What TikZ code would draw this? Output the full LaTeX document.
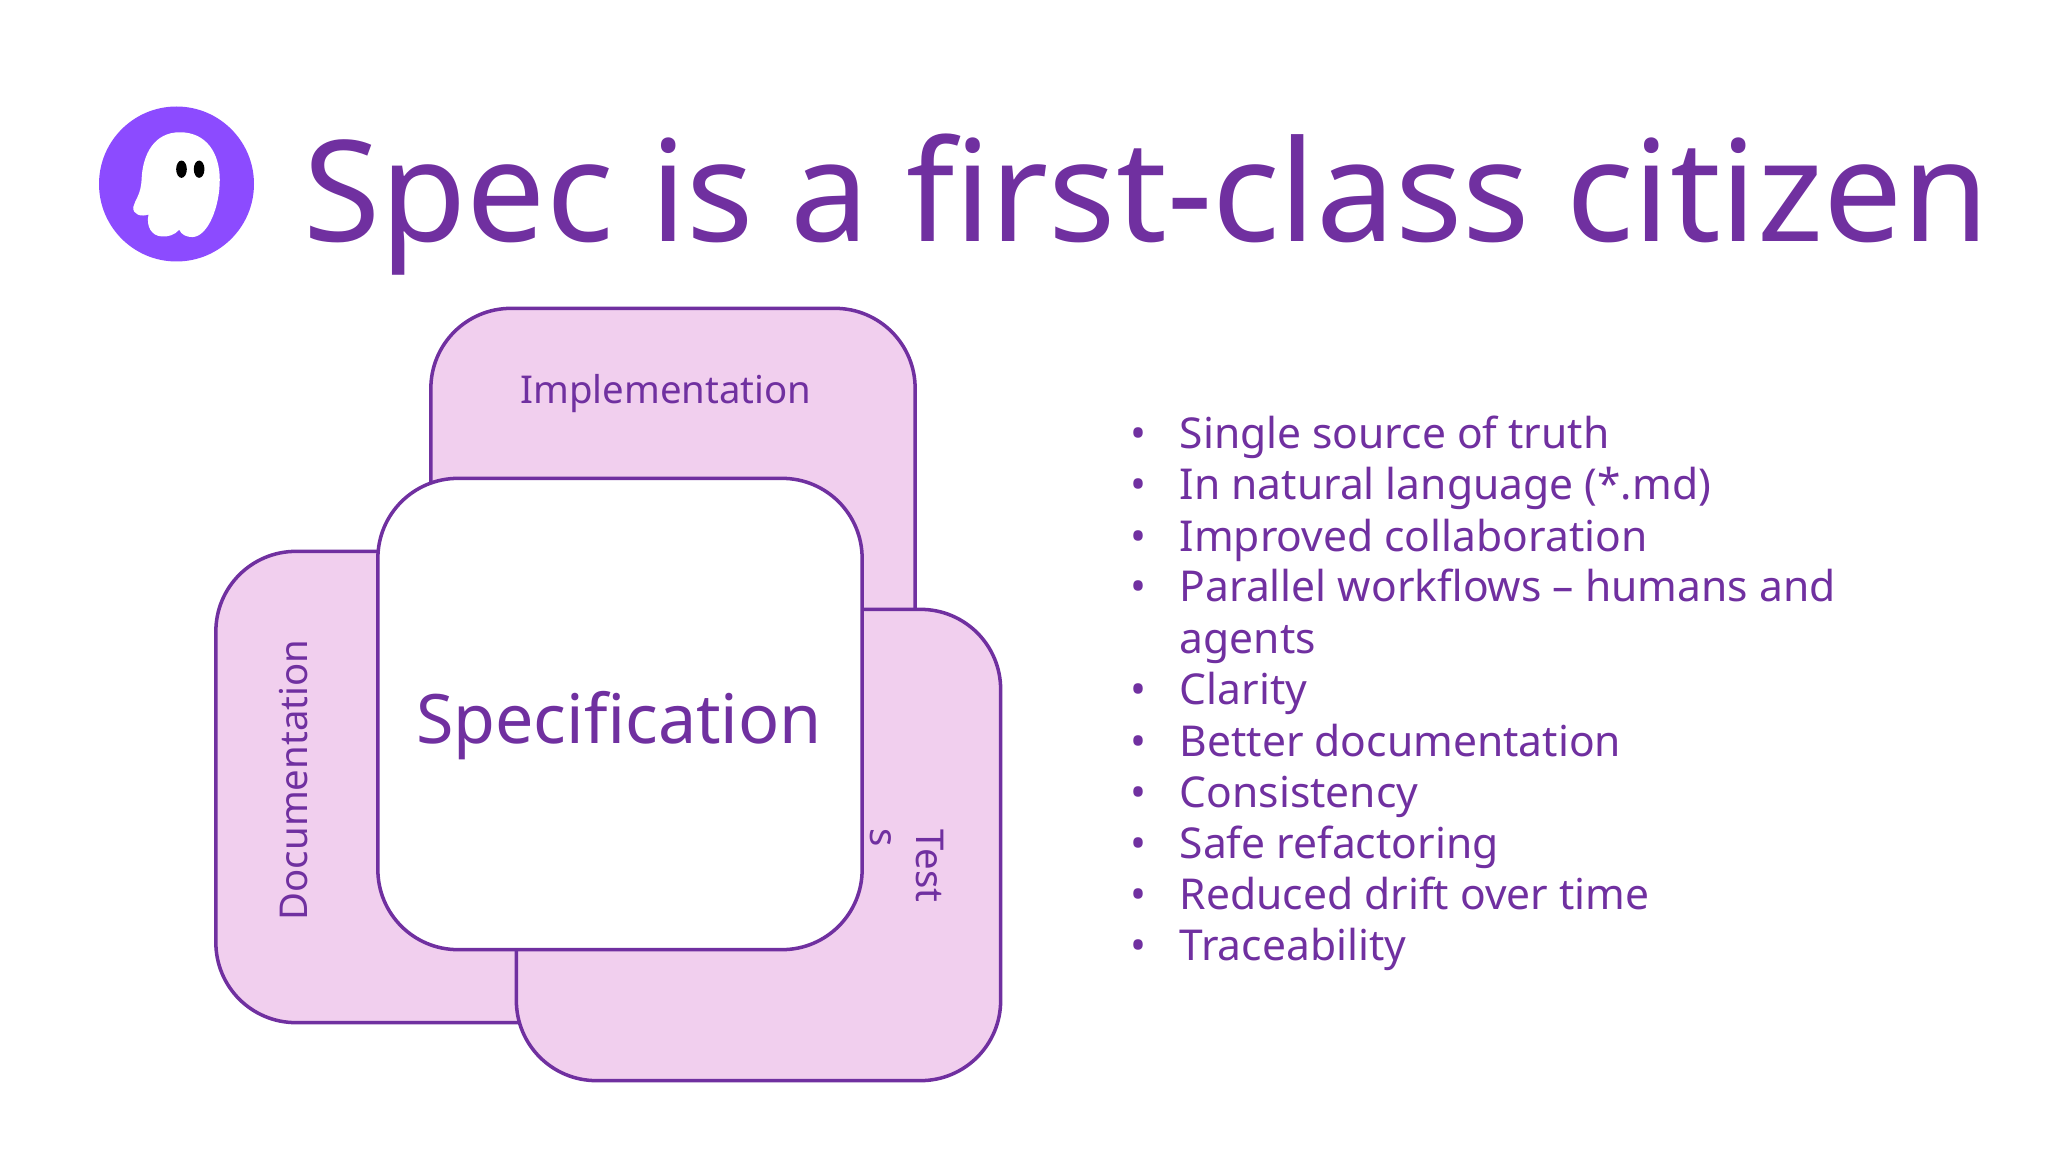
\documentclass[tikz,border=0pt]{standalone}
\usepackage{fontspec}
\setmainfont{Noto Sans}
\definecolor{specpurple}{HTML}{7030A0}
\definecolor{specpink}{HTML}{F1CFEE}
\definecolor{logoviolet}{HTML}{8C4BFF}
\tikzset{
  specbox/.style={draw=specpurple,line width=1pt,rounded corners=0.8cm,minimum width=4.84cm,minimum height=4.71cm,inner sep=0pt},
  sidebox/.style={specbox,fill=specpink},
  sidelabel/.style={text=specpurple,font=\fontsize{10.9}{13}\selectfont,inner sep=0pt},
  listitem/.style={text=specpurple,font=\fontsize{12.1}{14}\selectfont,inner sep=0pt,anchor=base west},
  listdot/.style={text=specpurple,font=\fontsize{12.1}{14}\selectfont,inner sep=0pt,anchor=base}
}
\begin{document}
\begin{tikzpicture}[x=0.01cm,y=-0.01cm]
\useasboundingbox (0,0) rectangle (2048,1152);
% logo
\fill [logoviolet] (176.5,184) circle (77.5);
\begin{scope}[shift={(80,90)},x=0.00333cm,y=-0.00333cm]
\fill [white] (300,127) .. controls (380,127) and (420,190) .. (420,270)
  .. controls (420,350) and (385,440) .. (338,442)
  .. controls (320,442) and (305,435) .. (298,420)
  .. controls (285,435) and (265,442) .. (245,440)
  .. controls (215,438) and (198,410) .. (206,374)
  .. controls (185,382) and (158,375) .. (160,352)
  .. controls (165,330) and (183,315) .. (185,270)
  .. controls (188,190) and (225,127) .. (300,127) -- cycle;
\fill [black] (305,238) ellipse (16 and 26);
\fill [black] (358,238) ellipse (16 and 26);
\end{scope}
\node (title) at (302.5,242) [anchor=base west,inner sep=0pt,text=specpurple,font=\fontsize{40}{48}\selectfont] {Spec is a first-class citizen};
% boxes
\node (impl) at (673,544) [sidebox] {};
\node (doc) at (458,787) [sidebox] {};
\node (test) at (758.5,845) [sidebox] {};
\node (spec) at (620,714) [specbox,fill=white] {};
\node (speclabel) at (619,726) [text=specpurple,inner sep=0pt,font=\fontsize{19.4}{23}\selectfont] {Specification};
\node (impllabel) at (666,394) [sidelabel] {Implementation};
\node (doclabel) at (294,780) [sidelabel,rotate=90] {Documentation};
\node (testlabel) at (930,866) [sidelabel,rotate=-90] {Test};
\node (testlabelb) at (881,838) [sidelabel,rotate=-90] {s};
% list
\node (d1) at (1138,449) [listdot] {•};
\node (t1) at (1179,449) [listitem] {Single source of truth};
\node (d2) at (1138,500) [listdot] {•};
\node (t2) at (1179,500) [listitem] {In natural language (*.md)};
\node (d3) at (1138,551) [listdot] {•};
\node (t3) at (1179,551) [listitem] {Improved collaboration};
\node (d4) at (1138,602) [listdot] {•};
\node (t4) at (1179,602) [listitem] {Parallel workflows – humans and};
\node (t4b) at (1179,653) [listitem] {agents};
\node (d5) at (1138,705) [listdot] {•};
\node (t5) at (1179,705) [listitem] {Clarity};
\node (d6) at (1138,756) [listdot] {•};
\node (t6) at (1179,756) [listitem] {Better documentation};
\node (d7) at (1138,807) [listdot] {•};
\node (t7) at (1179,807) [listitem] {Consistency};
\node (d8) at (1138,858) [listdot] {•};
\node (t8) at (1179,858) [listitem] {Safe refactoring};
\node (d9) at (1138,909) [listdot] {•};
\node (t9) at (1179,909) [listitem] {Reduced drift over time};
\node (d10) at (1138,960) [listdot] {•};
\node (t10) at (1179,960) [listitem] {Traceability};
\end{tikzpicture}
\end{document}
